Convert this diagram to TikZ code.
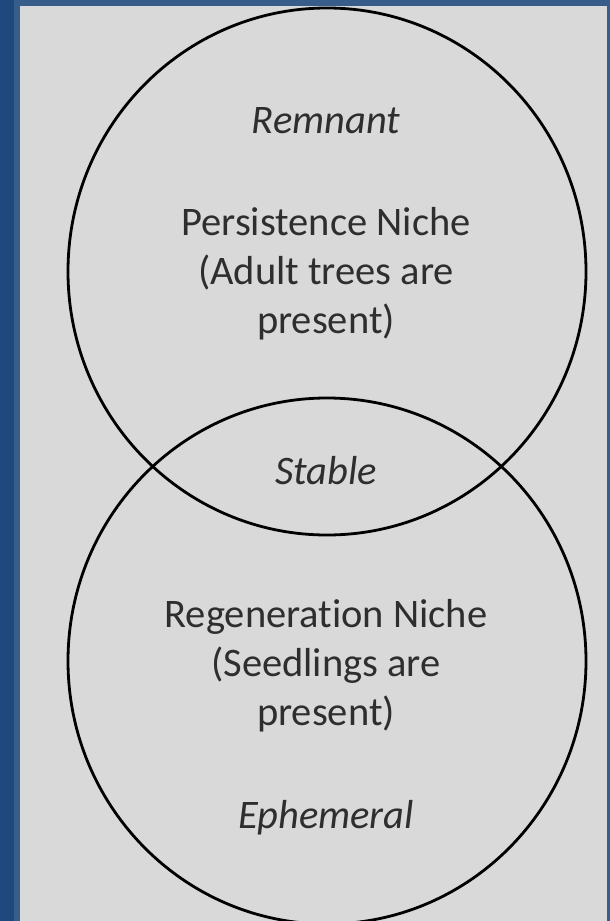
\documentclass[tikz,border=0pt]{standalone}
\usepackage{fontspec}
\setmainfont{Carlito}[Ligatures=NoCommon]
\definecolor{outerblue}{HTML}{1F497D}
\definecolor{edgeblue}{HTML}{385D8A}
\definecolor{panelgray}{HTML}{D9D9D9}
\definecolor{txt}{HTML}{2E2E2E}
\begin{document}
\begin{tikzpicture}[x=1pt,y=-1pt,
  lbl/.style={font=\fontsize{40.5}{49}\selectfont, text=txt, align=center, inner sep=0pt, anchor=base},
  ring/.style={line width=2.8pt, draw=black}]
\useasboundingbox (0,0) rectangle (610,921);
\clip (0,0) rectangle (610,921);
\fill[outerblue] (0,0) rectangle (610,921);
\draw[edgeblue, fill=panelgray, line width=6pt] (17,3) rectangle (610,940);
\draw[ring] (327,271.5) ellipse [x radius=259pt, y radius=263.5pt];
\draw[ring] (327,661) ellipse [x radius=259pt, y radius=263pt];
\node[lbl] (remnant) at (326,133) {\itshape Remnant};
\node[lbl] (persist) at (326,333) {Persistence Niche\\(Adult trees are\\present)};
\node[lbl] (stable) at (326,484) {\itshape Stable};
\node[lbl] (regen) at (326,725) {Regeneration Niche\\(Seedlings are\\present)};
\node[lbl] (ephem) at (326,828) {\itshape Ephemeral};
\end{tikzpicture}
\end{document}
